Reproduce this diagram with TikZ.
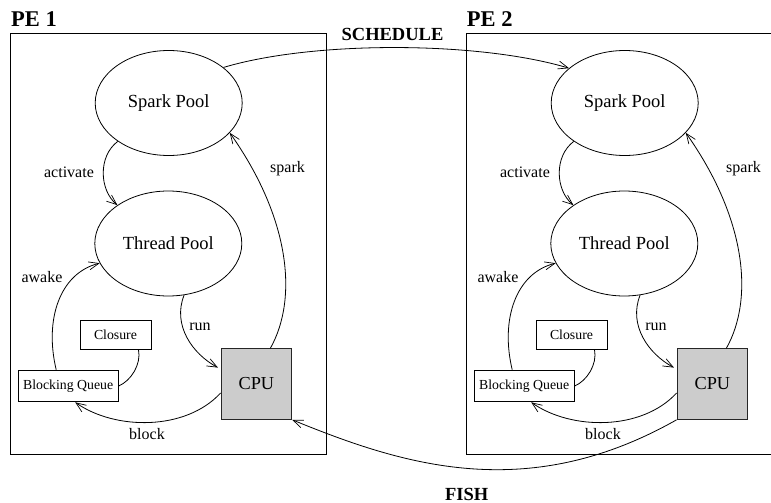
\documentclass[tikz,border=0pt]{standalone}
\usepackage{fontspec}
\setmainfont{Liberation Serif}
\usetikzlibrary{arrows.meta,shapes.geometric}
\begin{document}
\begin{tikzpicture}[x=1pt,y=-1pt,
  pool/.style={ellipse,draw,line width=0.8pt,minimum width=147pt,minimum height=105pt,inner sep=0pt,font=\fontsize{18.5}{20}\selectfont},
  smallbox/.style={rectangle,draw,line width=0.9pt,inner sep=0pt,font=\fontsize{13.8}{15}\selectfont},
  cpubox/.style={rectangle,draw=black!85,fill=black!20,line width=0.9pt,minimum width=70.7pt,minimum height=70.7pt,inner sep=0pt,font=\fontsize{18.3}{20}\selectfont},
  lbl/.style={inner sep=0pt,font=\fontsize{16}{18}\selectfont},
  ttl/.style={inner sep=0pt,font=\bfseries\fontsize{18.5}{20}\selectfont},
  conn/.style={line width=0.8pt},
  arr/.style={conn,-{Straight Barb[length=10pt,width=8pt,line width=0.7pt]}},
  pebox/.style={line width=0.9pt}
]
\useasboundingbox (0,0) rectangle (771,503);
% PE boxes
\draw[pebox] (10.7,33) rectangle (326,454);
\draw[pebox] (771,33) -- (466.7,33) -- (466.7,454) -- (771,454);
\node[anchor=base west,inner sep=0pt,font=\bfseries\fontsize{22.5}{24}\selectfont] (pe1) at (11,26.5) {PE 1};
\node[anchor=base west,inner sep=0pt,font=\bfseries\fontsize{22.5}{24}\selectfont] (pe2) at (466.7,26.5) {PE 2};
\node[ttl,anchor=base] (sched) at (392.5,40.5) {SCHEDULE};
\node[ttl,anchor=base] (fish) at (466.7,500) {FISH};

\foreach \o/\n in {0/1,456/2}{
  \begin{scope}[xshift=\o pt]
    \node[pool] (sp\n) at (168.7,103) {Spark Pool};
    \node[pool] (tp\n) at (168.3,243.5) {Thread Pool};
    \node[smallbox,minimum width=71pt,minimum height=28.3pt] (cl\n) at (115.5,335) {Closure};
    \node[smallbox,minimum width=100pt,minimum height=31.7pt] (bq\n) at (68.2,386) {Blocking Queue};
    \node[cpubox] (cpu\n) at (256.4,384) {CPU};
    \node[lbl] (la\n) at (69,172) {activate};
    \node[lbl] (ls\n) at (287.5,169) {spark};
    \node[lbl] (lw\n) at (42,276.7) {awake};
    \node[lbl] (lr\n) at (200,327) {run};
    \node[lbl] (lb\n) at (147,434) {block};
  \end{scope}
  \draw[arr] (sp\n.217) .. controls +(-20,15) and +(-18,-15) .. (tp\n.143);
  \draw[arr] ([xshift=14pt]cpu\n.north) .. controls +(28,-50) and +(60,85) .. (sp\n.334);
  \draw[arr,shorten >=3pt] (tp\n.287) .. controls +(-12,30) and +(-28,-15) .. ([yshift=15pt]cpu\n.west);
  \draw[arr] ([xshift=-12pt]bq\n.north) .. controls +(-12,-50) and +(-40,10) .. (tp\n.196);
  \draw[conn] ([xshift=23pt]cl\n.south) .. controls +(3,15) and +(12,-5) .. (bq\n.east);
  \draw[arr] ([yshift=-9pt]cpu\n.west) .. controls +(-35,38) and +(40,28) .. ([xshift=7pt]bq\n.south);
}
\draw[arr] (sp1.33) .. controls +(90,-27) and +(-90,-27) .. (sp2.148);
\draw[arr] (cpu2.south west) .. controls +(-150,85) and +(110,45) .. (cpu1.south east);
\end{tikzpicture}
\end{document}
